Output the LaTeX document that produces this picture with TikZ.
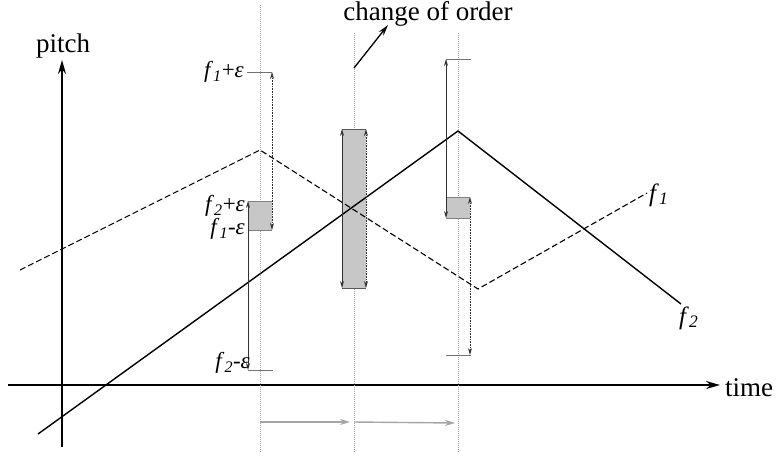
\documentclass[tikz,border=0pt]{standalone}
\usepackage{fontspec}
\setmainfont{Liberation Serif}
\usetikzlibrary{arrows.meta}
\begin{document}
\begin{tikzpicture}[x=1pt,y=-1pt,
  axis/.style={line width=1.5pt,-{Stealth[length=14pt,width=8pt]}},
  biglabel/.style={font=\fontsize{27}{30}\selectfont,inner sep=0pt},
  eplabel/.style={font=\fontsize{23}{25}\selectfont,inner sep=0pt,anchor=east},
  flabel/.style={font=\fontsize{25}{27}\selectfont,inner sep=0pt},
  guide/.style={gray!65,line width=1pt,dash pattern=on 1pt off 1pt},
  fone/.style={black,line width=1.1pt,dash pattern=on 6pt off 3pt},
  ftwo/.style={black,line width=1.4pt},
  rangesolid/.style={black!80,line width=0.8pt,{Stealth[length=7pt,width=4pt]}-{Stealth[length=7pt,width=4pt]}},
  rangedot/.style={black!80,line width=0.8pt,dash pattern=on 1pt off 0.6pt,{Stealth[length=7pt,width=4pt]}-{Stealth[length=7pt,width=4pt]}},
  tick/.style={black!55,line width=0.8pt},
  boxfill/.style={fill=black!22},
  boxedge/.style={draw=black!50,line width=0.9pt},
  step arrow/.style={black!35,line width=1.4pt,-{Stealth[length=10pt,width=6pt]}},
  order arrow/.style={black,line width=1.3pt,-{Stealth[length=11pt,width=6pt]}}
]
\useasboundingbox (0,0) rectangle (778,456);

% axes
\coordinate (ybot) at (62,447);
\coordinate (ytop) at (62,60);
\coordinate (xl) at (8,385);
\coordinate (xr) at (720,385);
\draw[axis] (ybot) -- (ytop);
\draw[axis] (xl) -- (xr);
\node[biglabel,anchor=base] (pitch) at (63,52) {pitch};
\node[biglabel,anchor=base west] (time) at (725,396) {time};

% vertical guides
\coordinate (g1t) at (260,5);   \coordinate (g1b) at (260,452);
\coordinate (g2t) at (354,33);  \coordinate (g2b) at (354,452);
\coordinate (g3t) at (458,33);  \coordinate (g3b) at (458,452);
\draw[guide] (g1t) -- (g1b);
\draw[guide] (g2t) -- (g2b);
\draw[guide] (g3t) -- (g3b);

% gray boxes
\fill[boxfill] (248,201) rectangle (272,230);
\draw[boxedge] (248,201) -- (272,201) (248,230) -- (272,230);
\fill[boxfill] (342,129) rectangle (366,288);
\draw[boxedge,draw=black!65] (342,129) -- (366,129) (342,288) -- (366,288);
\fill[boxfill] (446,197) rectangle (470,218);
\draw[boxedge] (446,197) -- (470,197) (446,218) -- (470,218);

% f1 (dashed)
\coordinate (a0) at (20,270);
\coordinate (a1) at (260,150);
\coordinate (a2) at (478,289);
\coordinate (a3) at (647,193);
\draw[fone] (a0) -- (a1) -- (a2) -- (a3);
\node[flabel,anchor=west] (f1) at (649,195) {\textit{f}\textsubscript{\textit{1}}};

% f2 (solid)
\coordinate (b0) at (38,434);
\coordinate (b1) at (458,131);
\coordinate (b2) at (681,304);
\draw[ftwo] (b0) -- (b1) -- (b2);
\node[flabel,anchor=west] (f2) at (679,318) {\textit{f}\textsubscript{\textit{2}}};

% left ranges (t = 260)
\coordinate (l1t) at (272,72);  \coordinate (l1b) at (272,230);
\coordinate (l2t) at (248,201); \coordinate (l2b) at (248,370);
\draw[tick] (247,72) -- (272,72);
\draw[tick] (248,370) -- (273,370);
\draw[rangedot] (l1t) -- (l1b);
\draw[rangesolid] (l2t) -- (l2b);
\node[eplabel] (e1) at (244,72) {\textit{f}\textsubscript{\textit{1}}+\textit{ε}};
\node[eplabel] (e2) at (245,206) {\textit{f}\textsubscript{\textit{2}}+\textit{ε}};
\node[eplabel] (e3) at (245,229) {\textit{f}\textsubscript{\textit{1}}-\textit{ε}};
\node[eplabel] (e4) at (250,363) {\textit{f}\textsubscript{\textit{2}}-\textit{ε}};

% middle ranges (t = 354)
\coordinate (m1t) at (342,129); \coordinate (m1b) at (342,288);
\coordinate (m2t) at (366,129); \coordinate (m2b) at (366,288);
\draw[rangesolid] (m1t) -- (m1b);
\draw[rangedot] (m2t) -- (m2b);

% right ranges (t = 458)
\coordinate (r1t) at (446,59);  \coordinate (r1b) at (446,218);
\coordinate (r2t) at (470,197); \coordinate (r2b) at (470,355);
\draw[tick] (446,59) -- (471,59);
\draw[tick] (446,355) -- (471,355);
\draw[rangesolid] (r1t) -- (r1b);
\draw[rangedot] (r2t) -- (r2b);

% change of order
\node[biglabel,anchor=base] (coo) at (428,20) {change of order};
\coordinate (cs) at (354,68);
\coordinate (ce) at (388,25);
\draw[order arrow] (cs) -- (ce);

% bottom step arrows
\coordinate (s0) at (260,422);
\coordinate (s1) at (350,422);
\coordinate (s2) at (354,422);
\coordinate (s3) at (455,423);
\draw[step arrow] (s0) -- (s1);
\draw[step arrow] (s2) -- (s3);
\end{tikzpicture}
\end{document}
